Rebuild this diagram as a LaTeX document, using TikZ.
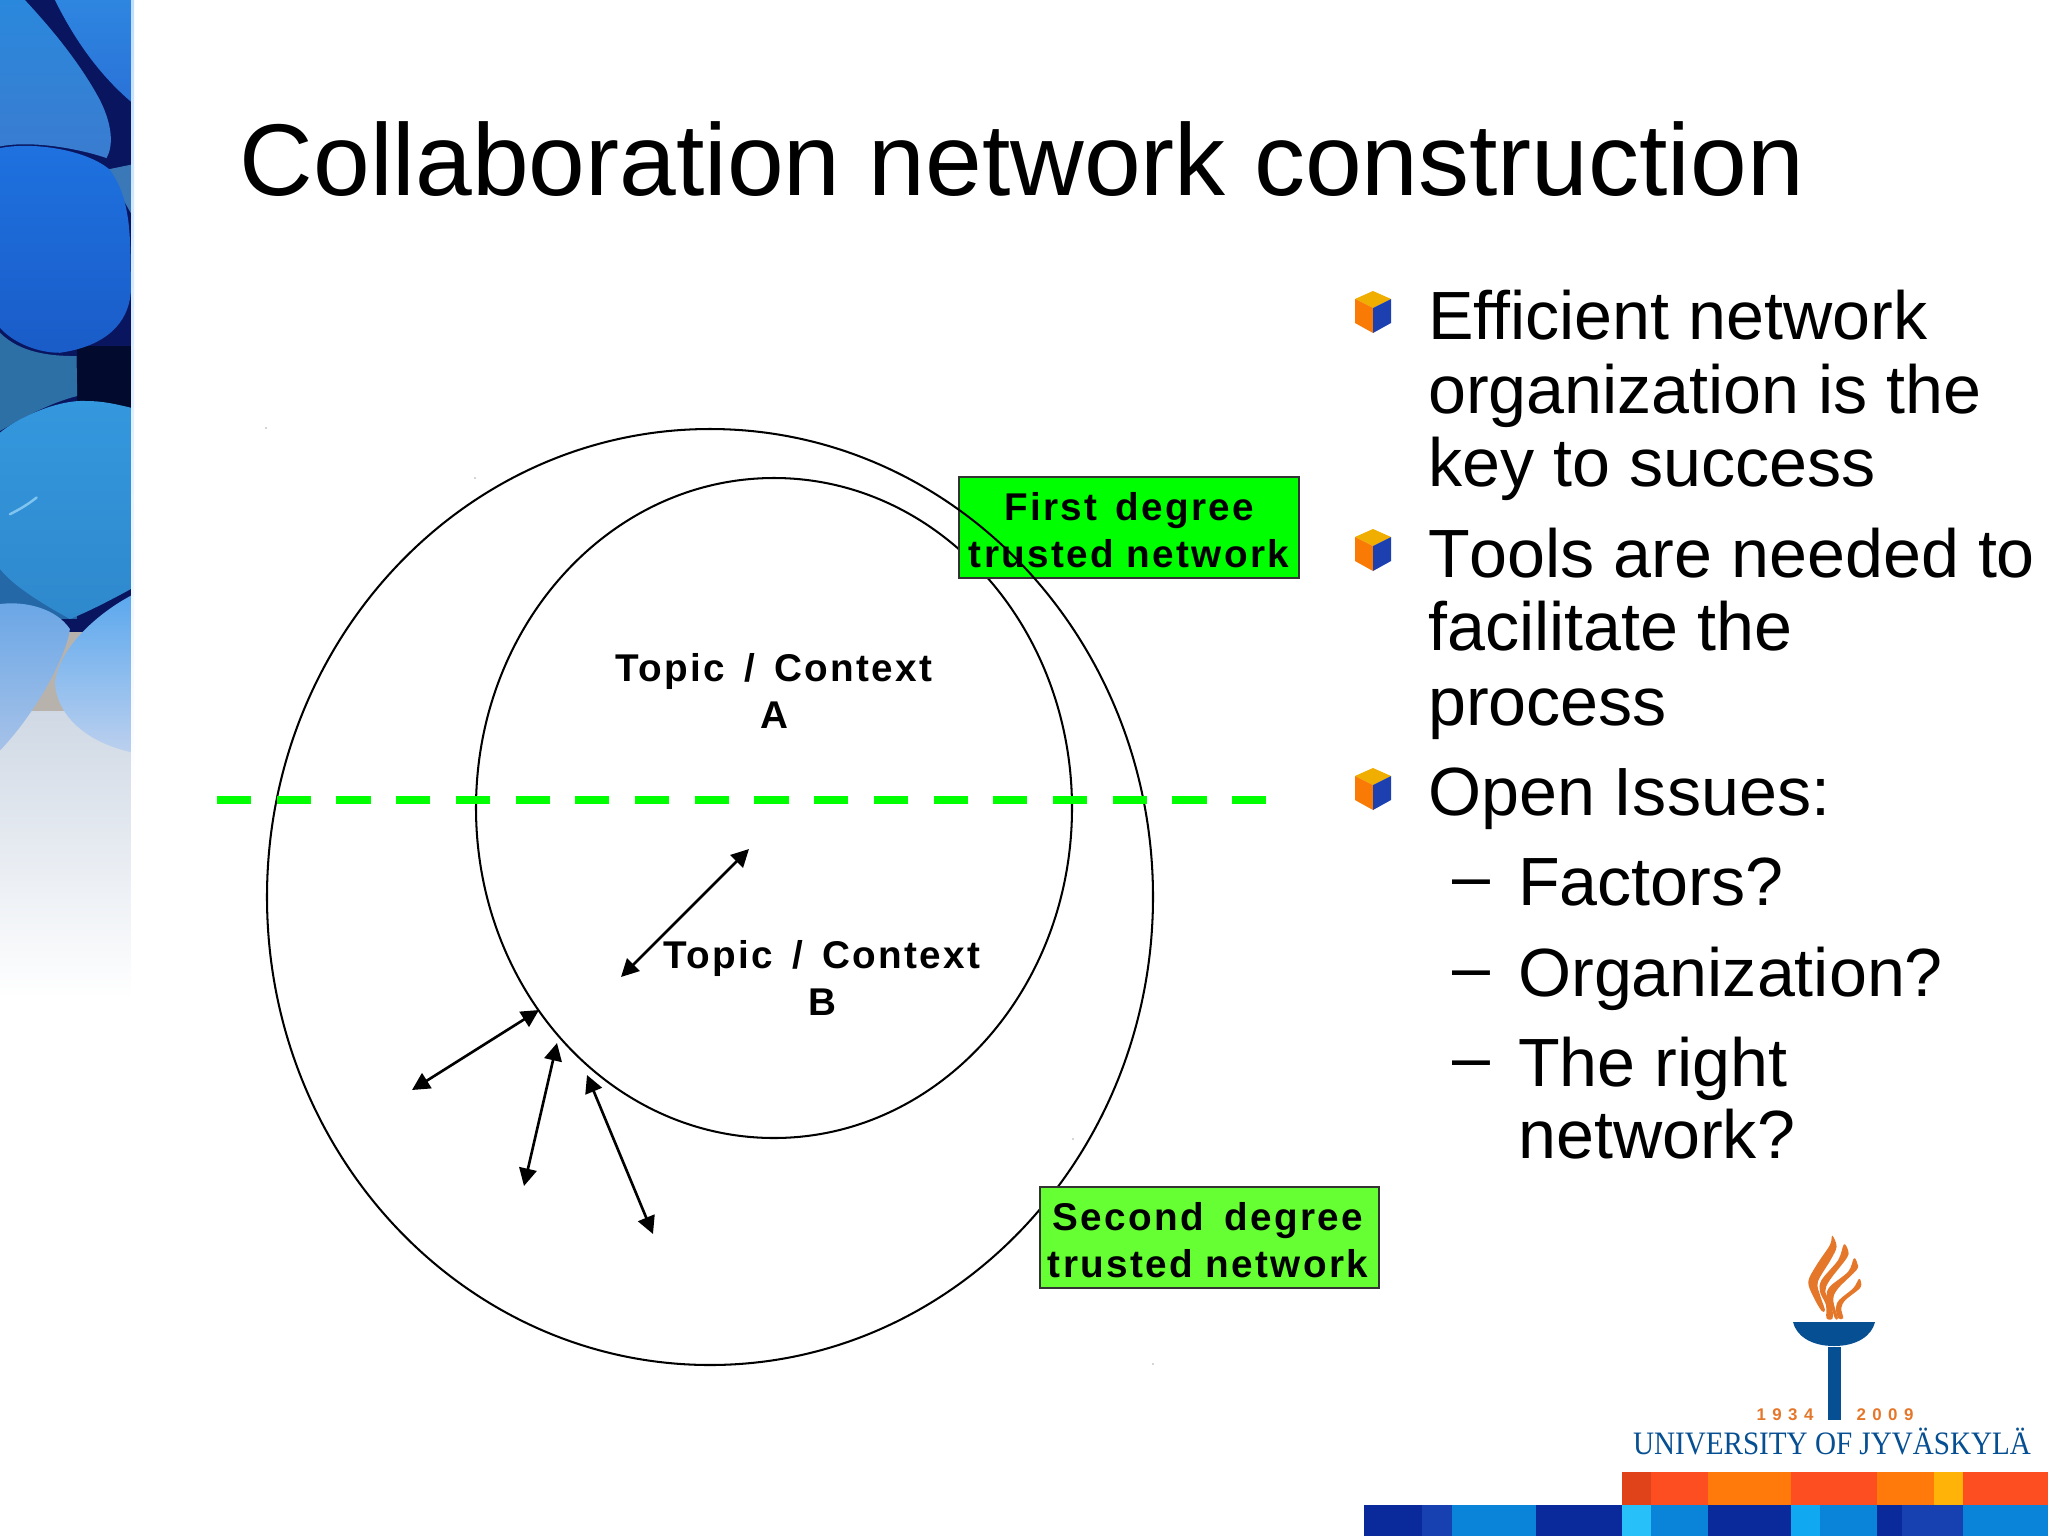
\documentclass[tikz,border=0pt]{standalone}
\usepackage{fontspec}
\usetikzlibrary{arrows.meta}
\setmainfont{Liberation Sans}
\newfontfamily\unifont{Liberation Serif}
\newfontfamily\spaced[LetterSpace=6]{Liberation Sans Bold}
\definecolor{cubeT}{HTML}{EFAE00}
\definecolor{cubeL}{HTML}{F97A05}
\definecolor{cubeR}{HTML}{1C40B0}
\definecolor{logoB}{HTML}{064F93}
\definecolor{logoO}{HTML}{E5772A}
\definecolor{dashG}{HTML}{00FF00}
\definecolor{boxA}{HTML}{00FF00}
\definecolor{boxB}{HTML}{66FF33}
\definecolor{orA}{HTML}{E0431A}
\definecolor{orB}{HTML}{FD4E22}
\definecolor{orC}{HTML}{FF7A0A}
\definecolor{orD}{HTML}{FFB208}
\definecolor{blA}{HTML}{0A2A9C}
\definecolor{blB}{HTML}{1740B0}
\definecolor{blC}{HTML}{0A84D8}
\definecolor{blD}{HTML}{28C0F8}
\definecolor{blE}{HTML}{10A8F0}
\definecolor{crack}{HTML}{0A1560}
\definecolor{crackD}{HTML}{020A2E}
\definecolor{tan}{HTML}{B8B2AC}
\definecolor{sA}{HTML}{2E86E0}
\definecolor{sAb}{HTML}{2A72D8}
\definecolor{sB}{HTML}{2A88DC}
\definecolor{sBm}{HTML}{3F86C8}
\definecolor{sBb}{HTML}{3A7CD0}
\definecolor{sLump}{HTML}{3A78B8}
\definecolor{sC}{HTML}{1E72E0}
\definecolor{sCb}{HTML}{1A5CC8}
\definecolor{sD}{HTML}{2C70A6}
\definecolor{sE}{HTML}{3498DE}
\definecolor{sEb}{HTML}{2F88CC}
\definecolor{sEx}{HTML}{2468A8}
\definecolor{sEy}{HTML}{80C4F0}
\definecolor{sF}{HTML}{6AA6E6}
\definecolor{sFb}{HTML}{A6C2E8}
\definecolor{sG}{HTML}{5CA8EE}
\definecolor{sGb}{HTML}{BCD0EE}
\definecolor{fade}{HTML}{CFD8E4}
\definecolor{edgeB}{HTML}{BFDFFF}
\tikzset{
  titletext/.style={anchor=base west,inner sep=0pt,font=\fontsize{29}{29}\selectfont},
  bodytext/.style={anchor=base west,inner sep=0pt,font=\fontsize{19.4}{19.4}\selectfont},
  labeltext/.style={align=center,inner sep=0pt,font=\fontsize{11}{13.4}\selectfont\spaced},
  boxone/.style={draw=black!80,line width=.55pt,fill=boxA,minimum width=340*0.01cm,minimum height=101*0.01cm,inner sep=0pt},
  boxtwo/.style={draw=black!80,line width=.55pt,fill=boxB,minimum width=339*0.01cm,minimum height=101*0.01cm,inner sep=0pt},
  ring/.style={draw=black,line width=.58pt},
  link/.style={black,line width=.75pt,{Triangle[length=5pt,width=5pt]}-{Triangle[length=5pt,width=5pt]}},
  greendash/.style={draw=dashG,line width=2.5pt,dash pattern=on 9.7pt off 7.28pt},
  speck/.style={fill=black!70,inner sep=0pt,minimum size=.4pt,circle},
  bulletcube/.pic={
    \fill[cubeT] (0,-21)--(18,-13)--(0,-4)--(-18,-13)--cycle;
    \fill[cubeL] (-18,-13)--(0,-4)--(0,21)--(-18,11)--cycle;
    \fill[cubeR] (18,-13)--(0,-4)--(0,21)--(18,11)--cycle;
  }
}
\begin{document}
\begin{tikzpicture}[x=0.01cm,y=-0.01cm]
\useasboundingbox (0,0) rectangle (2048,1536);
\fill[white] (0,0) rectangle (2048,1536);
% stone panel, drawn at three units to the pixel
\begin{scope}
\clip (0,0) rectangle (131,1000);
\begin{scope}[x=0.003333cm,y=-0.003333cm]
\shade[top color=fade,bottom color=white] (0,2130) rectangle (393,3000);
\fill[tan] (0,1900) rectangle (393,2135);
\fill[crack] (0,0) rectangle (393,1900);
\fill[crackD] (230,1040) rectangle (393,1240);
\shade[top color=sA,bottom color=sAb] (165,0) .. controls (200,70) and (270,200) .. (393,305) -- (393,0) -- cycle;
\shade[top color=sB,middle color=sBm,bottom color=sBb] (0,0) -- (75,0) .. controls (130,60) and (230,170) .. (300,300) .. controls (340,380) and (340,440) .. (320,475) .. controls (250,450) and (100,420) .. (0,440) -- cycle;
\fill[sLump] (320,510) -- (393,495) -- (393,640) -- cycle;
\shade[top color=sC,bottom color=sCb] (0,445) .. controls (100,425) and (260,450) .. (330,510) .. controls (393,600) and (393,700) .. (393,880) .. controls (385,970) and (320,1040) .. (180,1060) .. controls (100,1060) and (30,1020) .. (0,985) -- cycle;
\fill[sD] (0,1000) .. controls (60,1060) and (150,1070) .. (230,1070) -- (232,1190) .. controls (150,1210) and (60,1260) .. (0,1295) -- cycle;
\fill[sEx] (0,1700) rectangle (230,1860);
\shade[top color=sE,bottom color=sEb] (0,1300) .. controls (60,1250) and (180,1200) .. (260,1205) .. controls (310,1205) and (350,1215) .. (393,1225) -- (393,1770) .. controls (320,1810) and (260,1840) .. (210,1860) .. controls (120,1810) and (40,1760) .. (0,1710) -- cycle;
\draw[sEy,line width=.7pt,line cap=round] (30,1545) .. controls (60,1530) and (85,1515) .. (110,1495);
\shade[top color=sF,bottom color=sFb] (0,1815) .. controls (80,1805) and (170,1830) .. (210,1890) .. controls (200,1970) and (110,2140) .. (0,2255) -- cycle;
\shade[top color=sG,bottom color=sGb] (393,1790) .. controls (300,1840) and (180,1940) .. (165,2050) .. controls (170,2150) and (260,2230) .. (393,2260) -- cycle;
\end{scope}
\end{scope}
\shade[top color=edgeB,bottom color=white] (131,0) rectangle (134,800);
% title
\node[titletext] (title) at (239,195) {Collaboration network construction};
% diagram
\draw[ring] (774,808) ellipse [x radius=298,y radius=330];
\node[boxone] (first) at (1129,527.5) {};
\draw[ring] (710,897) ellipse [x radius=443,y radius=468];
\node[boxtwo] (second) at (1209.5,1237.5) {};
\coordinate (dashL) at (217,800);
\coordinate (dashR) at (1267,800);
\draw[greendash] (dashL) -- (dashR);
\node[labeltext] (firsttxt) at (1129,530) {First\hspace{1.5pt} degree\\trusted network};
\node[labeltext] (secondtxt) at (1208,1240) {Second\hspace{2.2pt} degree\\trusted network};
\node[labeltext] (topica) at (774,691) {Topic\hspace{1.8pt} / \hspace{1.8pt}Context\\A};
\node[labeltext] (topicb) at (822,978) {Topic\hspace{1.8pt} / \hspace{1.8pt}Context\\B};
\coordinate (a1) at (749,849); \coordinate (b1) at (621,977);
\coordinate (a2) at (539,1010); \coordinate (b2) at (412,1090);
\coordinate (a3) at (557,1043); \coordinate (b3) at (524,1186);
\coordinate (a4) at (587,1075); \coordinate (b4) at (653,1234);
\draw[link] (a1) -- (b1);
\draw[link] (a2) -- (b2);
\draw[link] (a3) -- (b3);
\draw[link] (a4) -- (b4);
\node[speck] (s1) at (266,428) {};
\node[speck] (s2) at (475,478) {};
\node[speck] (s3) at (1073,1139) {};
\node[speck] (s4) at (1153,1364) {};
% bullets
\pic at (1373,312) {bulletcube};
\pic at (1373,550) {bulletcube};
\pic at (1373,789) {bulletcube};
\node[bodytext] (l1) at (1427.5,339) {Efficient network};
\node[bodytext] (l2) at (1427.5,413) {organization is the};
\node[bodytext] (l3) at (1427.5,486) {key to success};
\node[bodytext] (l4) at (1427.5,577) {T\kern0pt ools are needed to};
\node[bodytext] (l5) at (1427.5,650) {facilitate the};
\node[bodytext] (l6) at (1427.5,725) {process};
\node[bodytext] (l7) at (1427.5,815) {Open Issues:};
\node[bodytext] (d1) at (1452,899) {–};
\node[bodytext] (l8) at (1517.5,905) {Factors?};
\node[bodytext] (d2) at (1452,990) {–};
\node[bodytext] (l9) at (1517.5,996) {Organization?};
\node[bodytext] (d3) at (1452,1080) {–};
\node[bodytext] (l10) at (1517.5,1086) {The right};
\node[bodytext] (l11) at (1517.5,1158) {network?};
% logo
\begin{scope}[shift={(1780,1225)},x=0.003333cm,y=-0.003333cm]
\fill[logoO] plot[smooth cycle,tension=.55] coordinates {(157,32) (150,60) (110,120) (85,170) (100,215) (125,258) (135,255) (120,210) (114,170) (152,105) (170,65)};
\fill[logoO] plot[smooth cycle,tension=.55] coordinates {(192,58) (175,105) (125,165) (120,200) (138,240) (140,280) (158,280) (155,240) (136,200) (150,165) (200,100) (205,78)};
\fill[logoO] plot[smooth cycle,tension=.55] coordinates {(222,100) (205,140) (150,185) (140,215) (155,250) (165,280) (174,280) (160,225) (175,190) (230,135) (232,115)};
\fill[logoO] plot[smooth cycle,tension=.55] coordinates {(237,162) (220,190) (178,225) (168,250) (175,280) (190,280) (184,250) (197,225) (240,190) (243,170)};
\end{scope}
\fill[logoB] (1793,1322) -- (1875,1322) .. controls (1872,1335) and (1858,1346) .. (1834,1346) .. controls (1810,1346) and (1796,1335) .. (1793,1322) -- cycle;
\fill[logoB] (1828,1347) rectangle (1841,1420);
\node[inner sep=0pt,text=logoO,font=\fontsize{4.8}{4.8}\selectfont\spaced\addfontfeature{LetterSpace=38}] (y1) at (1785,1415) {1934};
\node[inner sep=0pt,text=logoO,font=\fontsize{4.8}{4.8}\selectfont\spaced\addfontfeature{LetterSpace=38}] (y2) at (1885,1415) {2009};
\node[inner sep=0pt,anchor=base,text=logoB,xscale=.89,font=\fontsize{9.3}{9.3}\selectfont\unifont] (uni) at (1832,1454) {UNIVERSITY OF JYVÄSKYLÄ};
% bands
\foreach \a/\b/\c in {1622/1651/orA,1651/1708/orB,1708/1791/orC,1791/1877/orB,1877/1934/orC,1934/1963/orD,1963/2048/orB}
  \fill[\c] (\a,1472) rectangle (\b,1505);
\foreach \a/\b/\c in {1364/1422/blA,1422/1452/blB,1452/1536/blC,1536/1622/blA,1622/1651/blD,1651/1708/blC,1708/1791/blA,1791/1820/blE,1820/1877/blC,1877/1902/blA,1902/1963/blB,1963/2048/blC}
  \fill[\c] (\a,1505) rectangle (\b,1536);
\end{tikzpicture}
\end{document}
